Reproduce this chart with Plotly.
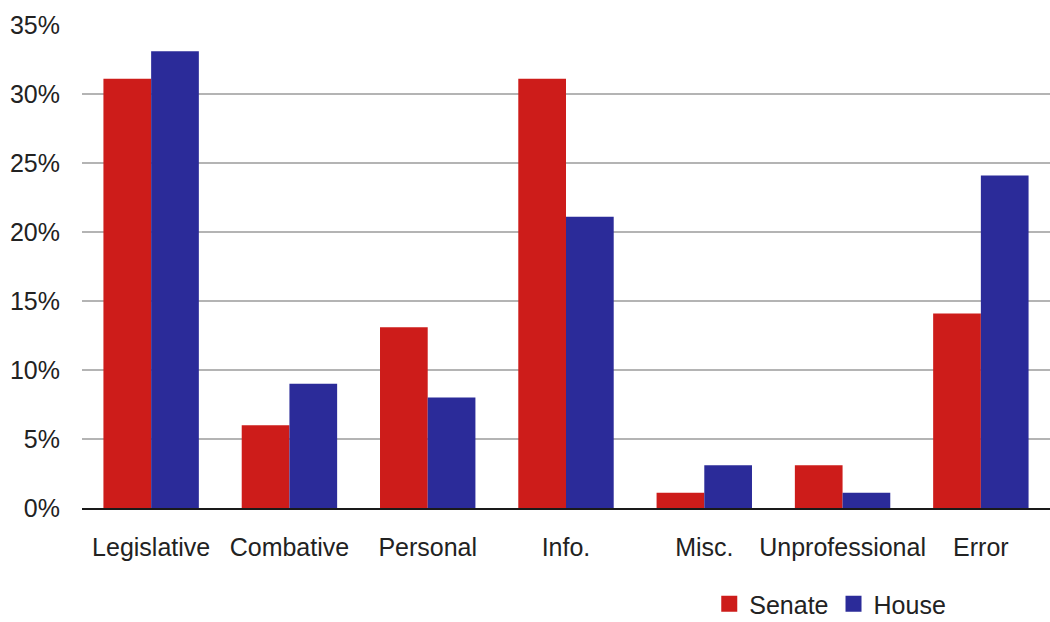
import plotly.graph_objects as go

categories = ["Legislative", "Combative", "Personal", "Info.", "Misc.", "Unprofessional", "Error"]
senate = [31.1, 6.0, 13.1, 31.1, 1.1, 3.1, 14.1]
house = [33.1, 9.0, 8.0, 21.1, 3.1, 1.1, 24.1]
y_ticks = [0, 5, 10, 15, 20, 25, 30, 35]

SENATE_COLOR = "#cd1c1a"
HOUSE_COLOR = "#2b2b99"

fig = go.Figure()
fig.add_trace(go.Bar(name="Senate", x=categories, y=senate, showlegend=False,
                     marker=dict(color=SENATE_COLOR, line=dict(width=0))))
fig.add_trace(go.Bar(name="House", x=categories, y=house, showlegend=False,
                     marker=dict(color=HOUSE_COLOR, line=dict(width=0))))

# larger square legend keys
for name, color in [("Senate", SENATE_COLOR), ("House", HOUSE_COLOR)]:
    fig.add_trace(go.Scatter(name=name, x=[None], y=[None], mode="markers",
                             marker=dict(symbol="square", size=17, color=color),
                             showlegend=True))

font_family = "Liberation Sans, Arial, sans-serif"

fig.update_layout(
    width=1050,
    height=622,
    margin=dict(l=82, r=0, t=25, b=114, autoexpand=False),
    paper_bgcolor="white",
    plot_bgcolor="white",
    barmode="group",
    bargap=0.31,
    bargroupgap=0,
    font=dict(family=font_family, size=20, color="#222222"),
    legend=dict(
        orientation="h",
        x=0.773,
        xanchor="center",
        y=-0.199,
        yanchor="middle",
        font=dict(size=25, color="#222222"),
        itemsizing="trace",
        itemwidth=30,
        tracegroupgap=0,
        bgcolor="rgba(0,0,0,0)",
    ),
    showlegend=True,
)

fig.update_xaxes(
    showgrid=False,
    showline=True,
    linecolor="#1a1a1a",
    linewidth=2,
    ticks="",
    automargin=False,
    ticklabelstandoff=16,
    tickfont=dict(size=25, color="#222222"),
)
fig.update_yaxes(
    range=[0, 35],
    tickvals=y_ticks,
    ticktext=[f"{v}%" for v in y_ticks],
    showgrid=True,
    gridcolor="#b4b4b4",
    gridwidth=1.5,
    zeroline=False,
    showline=False,
    ticks="",
    automargin=False,
    ticklabelstandoff=21,
    tickfont=dict(size=25, color="#222222"),
)

fig.write_html("out.html")
